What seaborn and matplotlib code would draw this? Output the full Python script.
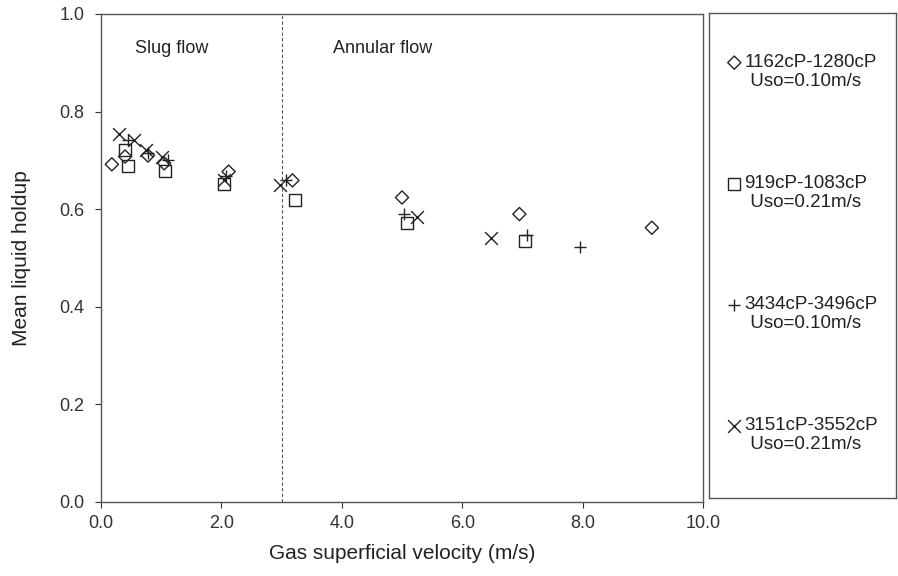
import numpy as np
import pandas as pd
import matplotlib
matplotlib.use("Agg")
import matplotlib.pyplot as plt
import seaborn as sns

sns.set_style("ticks")
plt.rcParams['font.family'] = ['Liberation Sans', 'DejaVu Sans']

# data
dia_x = [0.18, 0.40, 0.78, 1.05, 2.12, 3.18, 5.00, 6.95, 9.15]
dia_y = [0.692, 0.708, 0.710, 0.694, 0.677, 0.659, 0.624, 0.590, 0.562]
sq_x = [0.40, 0.45, 1.07, 2.05, 3.22, 5.08, 7.05]
sq_y = [0.722, 0.689, 0.679, 0.652, 0.618, 0.572, 0.534]
plus_x = [0.45, 0.78, 1.12, 2.08, 3.07, 5.03, 7.07, 7.95]
plus_y = [0.742, 0.715, 0.700, 0.668, 0.660, 0.591, 0.548, 0.522]
cross_x = [0.30, 0.55, 0.75, 1.02, 2.05, 2.97, 5.25, 6.48]
cross_y = [0.755, 0.742, 0.722, 0.707, 0.660, 0.650, 0.583, 0.542]

labels = ["1162cP-1280cP\n Uso=0.10m/s", "919cP-1083cP\n Uso=0.21m/s",
          "3434cP-3496cP\n Uso=0.10m/s", "3151cP-3552cP\n Uso=0.21m/s"]

series = [(dia_x, dia_y, "D", 45), (sq_x, sq_y, "s", 75),
          (plus_x, plus_y, "+", 85), (cross_x, cross_y, "x", 85)]

ink = "#222222"
fig = plt.figure(figsize=(8.98, 5.76), dpi=100)
ax = fig.add_axes([101/898, 1-502/576, 602/898, 488/576])

for (xs, ys, m, s), lab in zip(series, labels):
    df = pd.DataFrame({"v": xs, "h": ys})
    if m in ("D", "s"):
        sns.scatterplot(data=df, x="v", y="h", marker=m, s=s, ax=ax,
                        facecolor="none", edgecolor=ink, linewidth=1.0, label=lab)
    else:
        sns.scatterplot(data=df, x="v", y="h", marker=m, s=s, ax=ax,
                        color=ink, linewidth=1.0, label=lab)

ax.axvline(3.0, color="#555555", linestyle=(0, (3, 2)), linewidth=0.8)
ax.text(0.56, 0.92, "Slug flow", fontsize=13, color=ink)
ax.text(3.85, 0.92, "Annular flow", fontsize=13, color=ink)

ax.set_xlim(0, 10)
ax.set_ylim(0, 1.0)
ax.set_xticks(np.arange(0, 10.1, 2))
ax.set_xticklabels([f"{v:.1f}" for v in np.arange(0, 10.1, 2)])
ax.set_yticks(np.arange(0, 1.01, 0.2))
ax.set_yticklabels([f"{v:.1f}" for v in np.arange(0, 1.01, 0.2)])
ax.tick_params(labelsize=13, colors="#333333", length=4, width=0.8,
               direction="out", pad=5)
ax.tick_params(axis="y", pad=8)
ax.set_xlabel("Gas superficial velocity (m/s)", fontsize=15, color=ink, labelpad=9)
ax.set_ylabel("Mean liquid holdup", fontsize=15, color=ink, labelpad=20)
for sp in ax.spines.values():
    sp.set_visible(True)
    sp.set_color("#555555")
    sp.set_linewidth(1.0)

handles, labs = ax.get_legend_handles_labels()
ax.get_legend().remove()

# legend lives in its own boxed panel
lax = fig.add_axes([709/898, 1-498/576, 187/898, 485/576])
lax.set_xticks([])
lax.set_yticks([])
for sp in lax.spines.values():
    sp.set_color("#555555")
    sp.set_linewidth(1.0)
leg = lax.legend(handles, labs, loc="upper left", bbox_to_anchor=(0.04, 0.935),
                 frameon=False, fontsize=13.5, labelspacing=4.5, borderpad=0,
                 handletextpad=0.1, handlelength=0.9, handleheight=1.2,
                 markerscale=1.0)
for col in leg._legend_handle_box.get_children():
    for item in col.get_children():
        item.align = "top"
for t in leg.get_texts():
    t.set_color(ink)

fig.savefig("out.png", dpi=100)
